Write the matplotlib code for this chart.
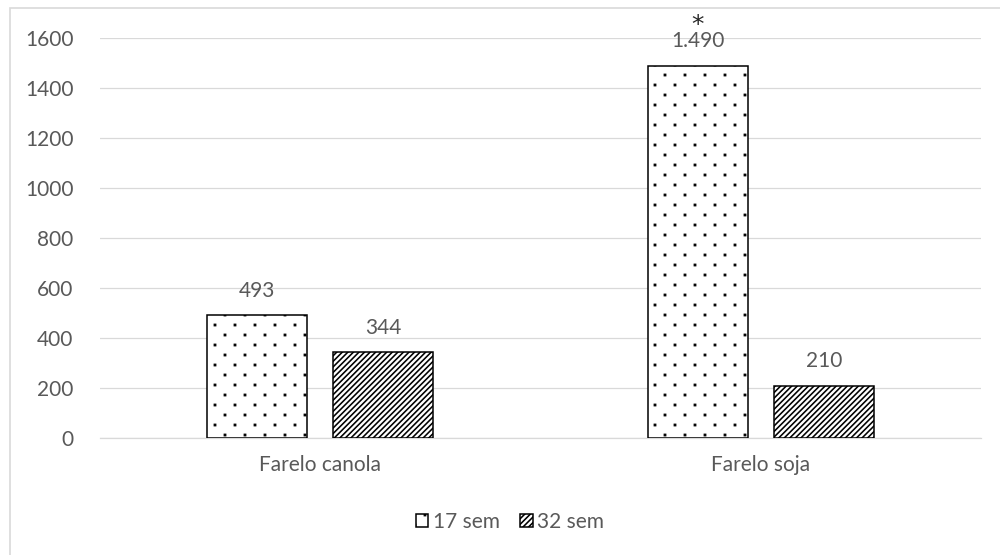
import numpy as np
import matplotlib
matplotlib.use('Agg')
import matplotlib.pyplot as plt
import matplotlib.hatch as mhatch
from matplotlib.path import Path
from matplotlib.patches import Rectangle

# dados
categorias = ['Farelo canola', 'Farelo soja']
series = ['17 sem', '32 sem']
valores_17 = [493, 1490]
valores_32 = [344, 210]
marcas_17 = ['', '*']   # diferença significativa
yticks = [0, 200, 400, 600, 800, 1000, 1200, 1400, 1600]


# padrão de pontos quadrados alternados, parecido com o do Excel
class PontosQuadrados(mhatch.HatchPatternBase):
    linhas = 10
    colunas = 5
    lado = 0.012

    def __init__(self, hatch, density):
        n = hatch.count('.')
        self.num_vertices = 5 * self.linhas * self.colunas if n else 0

    def set_vertices_and_codes(self, vertices, codes):
        h = self.lado / 2
        k = 0
        for i in range(self.linhas):
            y = (i + 0.5) / self.linhas
            d = 0.25 if i % 2 == 0 else 0.75
            for j in range(self.colunas):
                x = (j + d) / self.colunas
                vertices[k:k + 5] = [[x - h, y - h], [x + h, y - h],
                                     [x + h, y + h], [x - h, y + h],
                                     [x - h, y - h]]
                codes[k:k + 5] = [Path.MOVETO, Path.LINETO, Path.LINETO,
                                  Path.LINETO, Path.CLOSEPOLY]
                k += 5


mhatch._hatch_types = [PontosQuadrados if t is mhatch.SmallFilledCircles else t
                       for t in mhatch._hatch_types]

plt.rcParams['font.family'] = ['Lato', 'DejaVu Sans']
plt.rcParams['hatch.linewidth'] = 1.15
cinza = '#595959'
grade = '#d9d9d9'
fs = 15


def rotulo(v):
    return '{:,}'.format(v).replace(',', '.')


fig = plt.figure(figsize=(10, 5.55), dpi=100)
ax = fig.add_axes([0.1, 0.2108, 0.881, 0.7207])

# moldura do gráfico (so aparece borda esquerda e superior)
fig.patches.append(Rectangle((0.01, -0.05), 1.2, 1.0356, transform=fig.transFigure,
                             fill=False, edgecolor=grade, linewidth=1.2))

x = np.arange(len(categorias))
larg = 0.227
desl = 0.143

b1 = ax.bar(x - desl, valores_17, larg, color='white', edgecolor='black',
            linewidth=1.1, hatch='.', label=series[0], zorder=3)
b2 = ax.bar(x + desl, valores_32, larg, color='white', edgecolor='black',
            linewidth=1.1, hatch='//////', label=series[1], zorder=3)

# rótulos dos valores
for barras, vals in [(b1, valores_17), (b2, valores_32)]:
    for r, v in zip(barras, vals):
        ax.annotate(rotulo(v), (r.get_x() + r.get_width() / 2, v),
                    xytext=(0, 13), textcoords='offset points',
                    ha='center', va='baseline', fontsize=fs, color=cinza,
                    annotation_clip=False)

for r, v, m in zip(b1, valores_17, marcas_17):
    if m:
        ax.annotate(m, (r.get_x() + r.get_width() / 2, v),
                    xytext=(0, 24), textcoords='offset points',
                    ha='center', va='baseline', fontsize=18, color='#262626',
                    family='DejaVu Sans', annotation_clip=False)

ax.set_xlim(-0.5, 1.5)
ax.set_ylim(0, 1600)
ax.set_yticks(yticks)
ax.set_xticks(x)
ax.set_xticklabels(categorias)
ax.tick_params(axis='both', length=0, labelsize=fs, labelcolor=cinza)
ax.tick_params(axis='x', pad=12)
ax.tick_params(axis='y', pad=19)
ax.grid(axis='y', color=grade, linewidth=0.9, zorder=0)
for s in ['top', 'right', 'left']:
    ax.spines[s].set_visible(False)
ax.spines['bottom'].set_color(grade)
ax.spines['bottom'].set_linewidth(0.9)

fig.legend(loc='center', bbox_to_anchor=(0.51, 0.06), ncol=2, frameon=False,
           fontsize=fs, labelcolor=cinza, handlelength=0.6, handleheight=0.6,
           handletextpad=0.2, columnspacing=1.0)

fig.savefig('out.png', dpi=100)
